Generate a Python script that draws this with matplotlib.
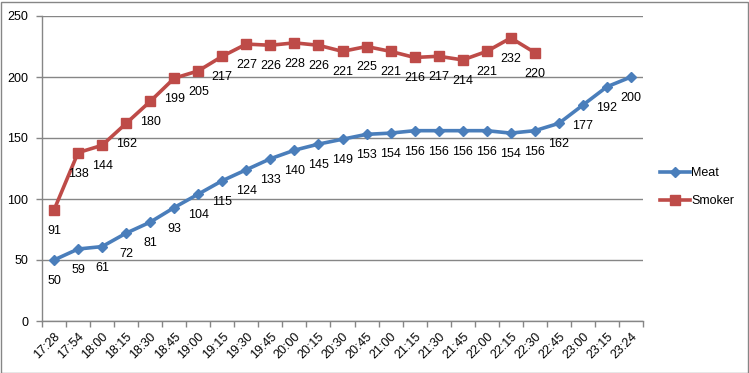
import matplotlib
matplotlib.use("Agg")
import matplotlib.pyplot as plt
from matplotlib.lines import Line2D
from matplotlib.patches import Rectangle
import numpy as np

categories = ["17:28", "17:54", "18:00", "18:15", "18:30", "18:45", "19:00", "19:15",
              "19:30", "19:45", "20:00", "20:15", "20:30", "20:45", "21:00", "21:15",
              "21:30", "21:45", "22:00", "22:15", "22:30", "22:45", "23:00", "23:15", "23:24"]
meat = [50, 59, 61, 72, 81, 93, 104, 115, 124, 133, 140, 145, 149, 153, 154, 156,
        156, 156, 156, 154, 156, 162, 177, 192, 200]
smoker = [91, 138, 144, 162, 180, 199, 205, 217, 227, 226, 228, 226, 221, 225, 221,
          216, 217, 214, 221, 232, 220]
y_ticks = [0, 50, 100, 150, 200, 250]

plt.rcParams['font.family'] = ['Liberation Sans', 'DejaVu Sans']
FS = 9
blue = "#4A7EBB"
red = "#BE4B48"
grid_c = "#868686"

fig = plt.figure(figsize=(7.49, 3.73), dpi=100)
W, H = 749, 373
ax = fig.add_axes([42 / W, 1 - 321 / H, (643 - 42) / W, (321 - 16) / H])

x = np.arange(len(categories))
ax.plot(x, meat, color=blue, lw=2.6, marker="D", ms=5.5, mec=blue, mfc=blue, zorder=3)
ax.plot(x[:len(smoker)], smoker, color=red, lw=2.6, marker="s", ms=6.5, mec=red, mfc=red, zorder=3)

for i, v in enumerate(meat):
    ax.annotate(str(v), (x[i], v), xytext=(0, -21), textcoords="offset pixels",
                ha="center", va="center", fontsize=FS, color="black", zorder=4)
for i, v in enumerate(smoker):
    ax.annotate(str(v), (x[i], v), xytext=(0, -21), textcoords="offset pixels",
                ha="center", va="center", fontsize=FS, color="black", zorder=4)

ax.set_xlim(-0.5, len(categories) - 0.5)
ax.set_ylim(0, 250)
ax.set_yticks(y_ticks)
ax.set_yticklabels([str(t) for t in y_ticks], fontsize=FS)
ax.set_xticks(x)
ax.set_xticklabels(categories, rotation=45, ha="right", rotation_mode="anchor", fontsize=FS)
ax.set_xticks(np.arange(-0.5, len(categories), 1), minor=True)
ax.tick_params(axis="x", which="major", length=0, pad=7)
ax.tick_params(axis="x", which="minor", length=4, color=grid_c, width=1)
ax.tick_params(axis="y", length=4, color=grid_c, width=1, pad=6)

ax.yaxis.grid(True, color=grid_c, lw=1)
ax.set_axisbelow(True)
for s in ["top", "right"]:
    ax.spines[s].set_visible(False)
for s in ["left", "bottom"]:
    ax.spines[s].set_color(grid_c)
    ax.spines[s].set_linewidth(1)

handles = [Line2D([], [], color=blue, lw=2.6, marker="D", ms=5.5),
           Line2D([], [], color=red, lw=2.6, marker="s", ms=6.5)]
fig.legend(handles, ["Meat", "Smoker"], loc="upper left",
           bbox_to_anchor=(655 / W, 1 - 162 / H), frameon=False, fontsize=FS,
           handlelength=2.4, handletextpad=0.1, labelspacing=1.3, borderaxespad=0)

fig.add_artist(Rectangle((0.5 / W, 0.5 / H), 1 - 2 / W, 1 - 2 / H, transform=fig.transFigure,
                         fill=False, edgecolor=grid_c, lw=1))

fig.savefig("out.png", dpi=100)
